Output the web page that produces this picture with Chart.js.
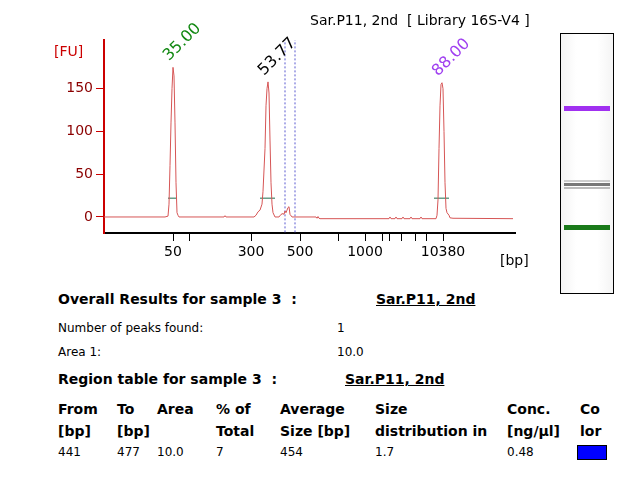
<!DOCTYPE html>
<html><head><meta charset="utf-8">
<script src="https://cdn.jsdelivr.net/npm/chart.js@4"></script>
<style>
body{margin:0;width:627px;height:490px;background:#fff;font-family:"DejaVu Sans",Verdana,sans-serif;position:relative;overflow:hidden}
.t{position:absolute;white-space:nowrap;color:#000}
.b{font-weight:bold;font-size:14px;line-height:22px}
.s{font-size:12px}
.u{text-decoration:underline}
#c{position:absolute;left:0;top:0}
</style></head><body>
<canvas id="c" width="627" height="278"></canvas>
<div class="t" style="left:310px;top:12px;font-size:14px">Sar.P11, 2nd&nbsp; [ Library 16S-V4 ]</div>
<div class="t" style="left:54px;top:43px;font-size:14px;color:#c00">[FU]</div>
<div style="position:absolute;left:560px;top:33px;width:52px;height:259px;border:1px solid #000;background:linear-gradient(to right,#f4f4f4,#fff 30%,#fff 70%,#f4f4f4)">
  <div style="position:absolute;left:3px;right:3px;top:72px;height:5px;background:#a030f0"></div>
  <div style="position:absolute;left:3px;right:3px;top:146px;height:2px;background:#ccc"></div>
  <div style="position:absolute;left:3px;right:3px;top:149px;height:3px;background:#777"></div>
  <div style="position:absolute;left:3px;right:3px;top:153px;height:2px;background:#bbb"></div>
  <div style="position:absolute;left:3px;right:3px;top:191px;height:5px;background:#1a7a1a"></div>
</div>
<div class="t b" style="left:58px;top:288px">Overall Results for sample 3&nbsp; :</div>
<div class="t b u" style="left:376px;top:288px">Sar.P11, 2nd</div>
<div class="t s" style="left:58px;top:321px">Number of peaks found:</div>
<div class="t s" style="left:337px;top:321px">1</div>
<div class="t s" style="left:58px;top:345px">Area 1:</div>
<div class="t s" style="left:337px;top:345px">10.0</div>
<div class="t b" style="left:58px;top:368px">Region table for sample 3&nbsp; :</div>
<div class="t b u" style="left:345px;top:368px">Sar.P11, 2nd</div>
<div class="t b" style="left:58px;top:398px">From<br>[bp]</div>
<div class="t b" style="left:117px;top:398px">To<br>[bp]</div>
<div class="t b" style="left:157px;top:398px">Area</div>
<div class="t b" style="left:216px;top:398px">% of<br>Total</div>
<div class="t b" style="left:280px;top:398px">Average<br>Size [bp]</div>
<div class="t b" style="left:375px;top:398px">Size<br>distribution in</div>
<div class="t b" style="left:507px;top:398px">Conc.<br>[ng/µl]</div>
<div class="t b" style="left:580px;top:398px">Co<br>lor</div>
<div class="t s" style="left:58px;top:445px">441</div>
<div class="t s" style="left:117px;top:445px">477</div>
<div class="t s" style="left:157px;top:445px">10.0</div>
<div class="t s" style="left:216px;top:445px">7</div>
<div class="t s" style="left:280px;top:445px">454</div>
<div class="t s" style="left:375px;top:445px">1.7</div>
<div class="t s" style="left:507px;top:445px">0.48</div>
<div style="position:absolute;left:577px;top:445px;width:28px;height:13px;background:#0000ff;border:1px solid #000"></div>
<script>
// migration position (arbitrary units) and fluorescence
const tracePos = [104,165,168,169,170,171,172,173,174,175,176,177,178,179,224,225,226,254,256,258,260,262,263,265,266,267,268,269,270,271,272,273,275,279,281,283,284,285,286,287,288,289,290,292,316,317,318,319,320,389,390,391,395,396,397,402,403,404,410,411,412,420,421,422,436,437,438,439,440,441,442,443,444,445,446,447,449,450,453,513];
const traceFU  = [0,0,1,15,60,110,150,175,165,110,40,5,2,0,0,1.5,0,0,2,6,8,15,30,80,130,150,158,145,90,40,15,5,0,0,3,4,3,7,5,8,11,12,3,0,0,-1.5,0.5,-1.5,-2,-2,0,-2,-2,0,-2,-2,0,-2,-2,0,-2,-2,0,-2,-2,2,20,80,130,155,157,150,100,40,10,5,2,-1,-1.5,-2];
const tickPos    = [173,189,251,300,338,365,382,389,401,415,426,443];
const tickLabels = ['50','','300','500','','1000','','','','','','10380'];
const yTicks = [0,50,100,150];
const peakPos = [173,268,442];
const peakFU  = [175,158,157];
const peakLabels = ['35.00','53.77','88.00'];
const peakColors = ['#118811','#000000','#a040f0'];
const regionPos = [285,295];
const markerFU = 22;

const line = (x0,x1,y0,y1) => [{x:x0,y:y0},{x:x1,y:y1}];
const datasets = [{data: tracePos.map((x,i)=>({x, y: traceFU[i]})), borderColor:'#d65555', borderWidth:1, pointRadius:0, tension:0}];
regionPos.forEach(x => datasets.push({data: line(x,x,-18,215), borderColor:'#5a5ad0', borderWidth:1, borderDash:[2,2], pointRadius:0}));
peakPos.forEach((x,i) => datasets.push({data: line(x-(i?8:5), x+(i?7:4), markerFU, markerFU), borderColor:'#1e6e50', borderWidth:1, pointRadius:0}));

const labelsPlugin = {
  id:'peakLabels',
  afterDatasetsDraw(chart){
    const {ctx, scales:{x,y}} = chart;
    ctx.save();
    ctx.font = '16px "DejaVu Sans"';
    peakPos.forEach((p,i)=>{
      ctx.save();
      ctx.translate(x.getPixelForValue(p)-4, y.getPixelForValue(peakFU[i])-6);
      ctx.rotate(-Math.PI/4);
      ctx.fillStyle = peakColors[i];
      ctx.fillText(peakLabels[i], 0, 0);
      ctx.restore();
    });
    ctx.fillStyle='#000';
    ctx.font='14px "DejaVu Sans"';
    ctx.fillText('[bp]', 500, 265);
    ctx.restore();
  }
};

new Chart(document.getElementById('c'), {
  type:'line',
  data:{datasets},
  options:{
    responsive:false, animation:false,
    layout:{padding:{top:40,right:112,left:0,bottom:0}},
    plugins:{legend:{display:false}, tooltip:{enabled:false}},
    scales:{
      x:{type:'linear', min:104, max:515,
        afterFit(s){ s.height = 45; },
        afterBuildTicks(s){ s.ticks = tickPos.map(v=>({value:v})); },
        grid:{drawOnChartArea:false, color:'#000', tickLength:8},
        border:{color:'#000', width:2},
        ticks:{autoSkip:false, maxRotation:0, color:'#000', font:{family:'DejaVu Sans', size:14},
          callback:(v)=>tickLabels[tickPos.indexOf(v)] ?? ''}
      },
      y:{min:-18.75, max:207,
        afterFit(s){ s.width = 104; },
        afterBuildTicks(s){ s.ticks = yTicks.map(v=>({value:v})); },
        grid:{drawOnChartArea:false, color:'#c00', tickLength:8},
        border:{color:'#c00', width:2},
        ticks:{color:'#8b0000', font:{family:'DejaVu Sans', size:14}}
      }
    }
  },
  plugins:[labelsPlugin]
});
</script>
</body></html>
